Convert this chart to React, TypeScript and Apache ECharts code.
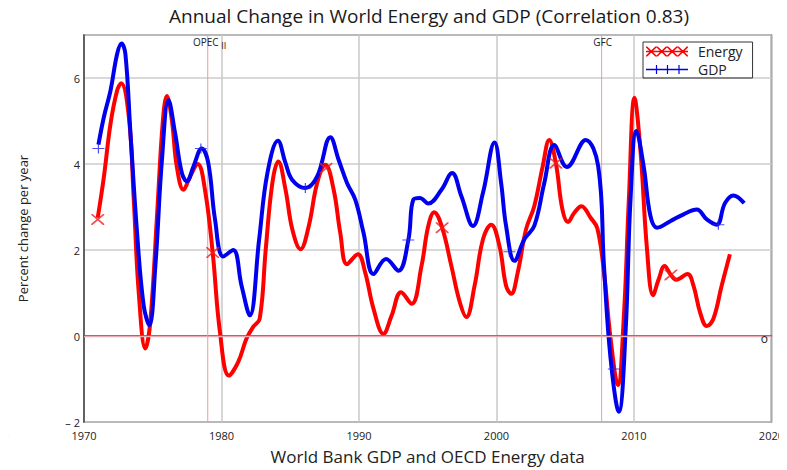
import React, { useEffect, useRef } from "react";
import * as echarts from "echarts";

const TITLE = "Annual Change in World Energy and GDP (Correlation 0.83)";
const X_NAME = "World Bank GDP and OECD Energy data";
const Y_NAME = "Percent change per year";

const energyYears = [
  1971.0, 1971.45, 1971.93, 1972.41, 1972.7, 1973.26, 1973.62, 1973.98, 1974.46, 1974.82,
  1975.31, 1975.74, 1976.03, 1976.39, 1976.75, 1977.24, 1977.72, 1978.27, 1978.8, 1979.36,
  1979.89, 1980.54, 1981.22, 1981.82, 1982.3, 1982.78, 1983.22, 1983.7, 1984.13, 1984.66,
  1985.15, 1985.75, 1986.35, 1986.96, 1987.56, 1988.16, 1988.64, 1989.13, 1989.92, 1990.45,
  1991.06, 1991.78, 1992.38, 1993.06, 1993.83, 1994.55, 1995.04, 1995.47, 1996.05, 1996.72,
  1997.33, 1997.81, 1998.41, 1999.02, 1999.62, 2000.22, 2000.7, 2001.07, 2001.55, 2002.15,
  2002.75, 2003.36, 2003.84, 2004.32, 2004.8, 2005.21, 2005.65, 2006.18, 2006.85, 2007.34,
  2007.82, 2008.3, 2008.83, 2009.27, 2009.63, 2010.04, 2010.47, 2010.95, 2011.39, 2011.8,
  2012.23, 2012.69, 2013.08, 2013.9, 2014.33, 2014.81, 2015.3, 2015.78, 2016.38, 2016.98,
];
const energyValues = [
  2.75, 3.71, 4.94, 5.71, 5.88, 5.1, 3.17, 1.02, -0.29, 0.32,
  2.79, 5.02, 5.58, 5.02, 3.94, 3.4, 3.71, 4.0, 3.4, 1.94,
  0.09, -0.92, -0.6, -0.06, 0.21, 0.4, 2.02, 3.56, 4.06, 3.4,
  2.48, 2.02, 2.56, 3.56, 3.98, 3.4, 2.4, 1.67, 1.9, 1.48,
  0.63, 0.05, 0.48, 1.02, 0.75, 1.63, 2.56, 2.88, 2.52, 1.63,
  0.79, 0.44, 1.17, 2.25, 2.59, 2.09, 1.17, 0.98, 1.48, 2.48,
  3.02, 3.94, 4.56, 4.02, 2.94, 2.65, 2.86, 3.02, 2.75, 2.5,
  1.48, -0.06, -1.14, 0.48, 3.17, 5.54, 4.33, 2.02, 0.95, 1.32,
  1.63, 1.42, 1.31, 1.44, 1.17, 0.55, 0.23, 0.4, 1.17, 1.9,
];

const gdpYears = [
  1971.05, 1971.45, 1971.93, 1972.41, 1972.73, 1973.01, 1973.38, 1973.86, 1974.34, 1974.75,
  1975.19, 1975.67, 1976.15, 1976.63, 1977.12, 1977.48, 1977.96, 1978.56, 1979.04, 1979.53,
  1980.13, 1980.85, 1981.46, 1982.06, 1982.74, 1983.34, 1984.11, 1984.66, 1985.15, 1986.11,
  1986.96, 1987.92, 1988.52, 1989.13, 1989.73, 1990.33, 1991.06, 1991.97, 1992.87, 1993.59,
  1993.95, 1994.43, 1995.04, 1996.0, 1996.77, 1997.45, 1998.29, 1999.02, 1999.86, 2000.34,
  2000.7, 2001.31, 2002.03, 2002.75, 2003.48, 2004.2, 2005.12, 2006.49, 2007.4, 2007.82,
  2008.3, 2008.9, 2009.39, 2009.75, 2010.18, 2010.71, 2011.2, 2011.68, 2012.64, 2013.61,
  2014.57, 2015.3, 2016.02, 2016.62, 2017.23, 2018.02,
];
const gdpValues = [
  4.45, 5.1, 5.71, 6.56, 6.8, 6.56, 4.71, 2.4, 0.71, 0.25,
  1.63, 4.1, 5.48, 4.71, 3.79, 3.6, 3.94, 4.36, 4.02, 2.71,
  1.85, 2.0, 1.17, 0.48, 2.25, 3.79, 4.54, 4.02, 3.63, 3.44,
  3.71, 4.62, 4.1, 3.56, 3.17, 2.4, 1.44, 1.79, 1.52, 2.23,
  3.17, 3.21, 3.08, 3.4, 3.79, 3.25, 2.56, 3.33, 4.5, 3.56,
  2.56, 1.75, 2.25, 2.56, 3.56, 4.44, 3.93, 4.56, 3.95, 1.63,
  -0.52, -1.76, 0.09, 3.17, 4.77, 3.94, 2.79, 2.52, 2.67, 2.83,
  2.94, 2.71, 2.59, 3.09, 3.27, 3.09,
];

const energyMarkerYears = [1971.0, 1979.36, 1987.6, 1996.05, 2004.32, 2012.69];
const energyMarkerValues = [2.71, 1.94, 3.9, 2.52, 4.02, 1.42];
const gdpMarkerYears = [1971.05, 1978.5, 1986.1, 1993.59, 2000.94, 2008.54, 2016.14];
const gdpMarkerValues = [4.36, 4.36, 3.44, 2.23, 1.96, -0.77, 2.59];

const eventYears = [1979, 2007.65];
const xTicks = [1970, 1980, 1990, 2000, 2010, 2020];
const yTicks = [-2, 0, 2, 4, 6];
const Y_MIN = -2;
const Y_MAX = 7;

const FONT = "'Open Sans', 'DejaVu Sans', sans-serif";
const EVENT_PINK = "#f29a9a";

const X_SYMBOL =
  "path://M0,0 L1,0 L10,9 L10,10 L9,10 L0,1 Z M10,0 L10,1 L1,10 L0,10 L0,9 L9,0 Z";
const PLUS_SYMBOL =
  "path://M4.5,0 L5.5,0 L5.5,10 L4.5,10 Z M0,4.5 L10,4.5 L10,5.5 L0,5.5 Z";

function energyIcon(): string {
  let d = "M0,5.2 L42,5.2 L42,6.8 L0,6.8 Z";
  for (let i = 0; i < 4; i++) {
    const o = i * 10.5;
    const w = 10.5;
    d += ` M${o},1 L${o + 1.2},1 L${o + w},10 L${o + w},11 L${o + w - 1.2},11 L${o},2 Z`;
    d += ` M${o + w},1 L${o + w},2 L${o + 1.2},11 L${o},11 L${o},10 L${o + w - 1.2},1 Z`;
  }
  d += " M0,0 L0.01,0 L0.01,12 L0,12 Z";
  return "path://" + d;
}
function gdpIcon(): string {
  let d = "M0,5.2 L42,5.2 L42,6.8 L0,6.8 Z";
  [10.5, 21.5, 33].forEach((c) => {
    d += ` M${c - 0.6},1.5 L${c + 0.6},1.5 L${c + 0.6},10.5 L${c - 0.6},10.5 Z`;
  });
  d += " M0,0 L0.01,0 L0.01,12 L0,12 Z";
  return "path://" + d;
}

const zip = (a: number[], b: number[]) => a.map((v, i) => [v, b[i]]);

export default function App() {
  const ref = useRef<HTMLDivElement>(null);
  useEffect(() => {
    if (!ref.current) return;
    const chart = echarts.init(ref.current, null, { renderer: "svg" });
    const eventSeries = eventYears.map((yr, i) => ({
      name: "event" + i,
      type: "line",
      data: [
        [yr, Y_MIN],
        [yr, Y_MAX],
      ],
      symbol: "none",
      silent: true,
      z: 1,
      lineStyle: { color: EVENT_PINK, width: 1 },
      itemStyle: { color: EVENT_PINK },
    }));
    const option: any = {
      animation: false,
      backgroundColor: "#ffffff",
      textStyle: { fontFamily: FONT },
      title: {
        text: TITLE,
        left: 429,
        textAlign: "center",
        top: 6,
        padding: 0,
        textStyle: { fontFamily: FONT, fontSize: 19, fontWeight: "normal", color: "#1a1a1a" },
      },
      legend: {
        orient: "vertical",
        left: 643,
        top: 42,
        padding: [1, 10, 0, 3],
        itemGap: 1,
        itemWidth: 42,
        itemHeight: 12,
        borderColor: "#333",
        borderWidth: 1,
        selectedMode: false,
        itemStyle: { borderWidth: 0 },
        textStyle: { fontFamily: FONT, fontSize: 14, color: "#222", lineHeight: 17, padding: [0, 0, 0, 5] },
        data: [
          { name: "Energy", icon: energyIcon(), itemStyle: { color: "#ff0000", borderWidth: 0 } },
          { name: "GDP", icon: gdpIcon(), itemStyle: { color: "#0000ee", borderWidth: 0 } },
        ],
      },
      grid: {
        left: 84,
        right: 10,
        top: 35,
        bottom: 45,
        show: true,
        borderColor: "#555",
        borderWidth: 1.5,
        backgroundColor: "transparent",
      },
      xAxis: {
        type: "value",
        min: 1970,
        max: 2020,
        interval: 10,
        name: X_NAME,
        nameLocation: "middle",
        nameGap: 26,
        nameTextStyle: { fontFamily: FONT, fontSize: 17, color: "#222" },
        axisLine: { show: true, lineStyle: { color: "#444", width: 1.5 } },
        axisTick: { show: false },
        axisLabel: {
          fontFamily: FONT,
          fontSize: 11,
          lineHeight: 12,
          color: "#222",
          margin: 7,
          formatter: (v: number) => (xTicks.indexOf(v) >= 0 ? String(v) : ""),
        },
        splitLine: { show: true, lineStyle: { color: "#c8c8c8", width: 1.5 } },
      },
      yAxis: {
        type: "value",
        min: Y_MIN,
        max: Y_MAX,
        interval: 2,
        name: Y_NAME,
        nameLocation: "middle",
        nameGap: 55,
        nameTextStyle: { fontFamily: FONT, fontSize: 13, color: "#222" },
        axisLine: { show: true, lineStyle: { color: "#444", width: 1.5 } },
        axisTick: { show: false },
        axisLabel: {
          fontFamily: FONT,
          fontSize: 11,
          lineHeight: 12,
          color: "#222",
          margin: 4,
          formatter: (v: number) =>
            yTicks.indexOf(v) < 0 ? "" : v < 0 ? "\u2013 " + Math.abs(v) : String(v),
        },
        splitLine: { show: true, lineStyle: { color: "#cccccc", width: 1.5 } },
      },
      series: [
        ...eventSeries,
        {
          name: "zero",
          type: "line",
          data: [],
          z: 1,
          silent: true,
          markLine: {
            silent: true,
            symbol: "none",
            label: { show: false },
            data: [{ yAxis: 0, lineStyle: { color: "#eaaab2", width: 1.3, type: "solid" } }],
          },
          markPoint: {
            silent: true,
            symbol: "circle",
            symbolSize: 1,
            itemStyle: { color: "transparent" },
            label: { show: true, position: "inside", color: "#222", fontFamily: FONT, fontSize: 10 },
            data: [
              { coord: [eventYears[0], Y_MAX], label: { formatter: "OPEC", offset: [-2, 7] } },
              { coord: [eventYears[0], Y_MAX], label: { formatter: "II", fontSize: 9, offset: [16, 10.5] } },
              { coord: [eventYears[1], Y_MAX], label: { formatter: "GFC", offset: [1, 7] } },
              { coord: [2020, 0], label: { formatter: "o", fontSize: 12, offset: [-7, 2] } },
            ],
          },
        },
        {
          name: "Energy",
          type: "line",
          data: zip(energyYears, energyValues),
          smooth: 0.4,
          symbol: "none",
          z: 3,
          lineStyle: { color: "#ff0000", width: 4 },
          itemStyle: { color: "#ff0000" },
        },
        {
          name: "GDP",
          type: "line",
          data: zip(gdpYears, gdpValues),
          smooth: 0.4,
          symbol: "none",
          z: 4,
          lineStyle: { color: "#0000ee", width: 4 },
          itemStyle: { color: "#0000ee" },
        },
        {
          name: "Energy markers",
          type: "scatter",
          data: zip(energyMarkerYears, energyMarkerValues),
          symbol: X_SYMBOL,
          symbolSize: [13, 11],
          z: 5,
          silent: true,
          itemStyle: { color: "#ee2020" },
        },
        {
          name: "GDP markers",
          type: "scatter",
          data: zip(gdpMarkerYears, gdpMarkerValues),
          symbol: PLUS_SYMBOL,
          symbolSize: [12, 10],
          z: 5,
          silent: true,
          itemStyle: { color: "#2020ee" },
        },
      ],
      graphic: [
        {
          type: "text",
          left: 5,
          top: 428,
          style: { text: "\u203a", fontSize: 11, fill: "#333", fontFamily: FONT },
        },
      ],
    };
    chart.setOption(option);
    return () => chart.dispose();
  }, []);
  return <div ref={ref} style={{ width: 787, height: 470, marginLeft: -8, marginTop: -8 }} />;
}
